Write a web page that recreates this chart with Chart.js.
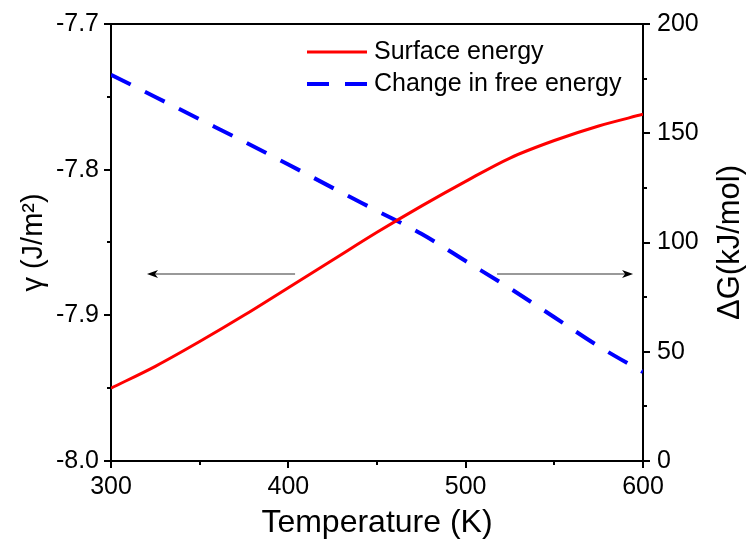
<!DOCTYPE html>
<html>
<head>
<meta charset="utf-8">
<script src="https://cdn.jsdelivr.net/npm/chart.js@4"></script>
<style>
  html, body { margin: 0; padding: 0; background: #fff; }
  #wrap { width: 748px; height: 544px; }
</style>
</head>
<body>
<div id="wrap"><canvas id="chart" width="748" height="544"></canvas></div>
<script>
// temperature (K)
const temps = [300, 325, 350, 375, 400, 425, 450, 475, 500, 525, 550, 575, 600];
// surface energy gamma (J/m^2), left axis
const surfaceEnergy = [-7.950, -7.935, -7.918, -7.900, -7.881, -7.862, -7.843, -7.825, -7.808, -7.792, -7.780, -7.770, -7.762];
// change in free energy dG (kJ/mol), right axis
const freeEnergy = [176.8, 166.6, 156.4, 146.2, 135.7, 125.0, 114.5, 104.0, 91.5, 79.0, 65.8, 52.5, 40.7];

const xTitle = 'Temperature (K)';
const yTitle = 'γ (J/m²)';
const y1Title = 'ΔG(kJ/mol)';

// arrows: [fromT, toT] at gamma value on left axis
const arrowY = -7.8716;
const arrows = [[403.8, 320.3], [517.7, 594.4]];

Chart.defaults.font.family = "'Liberation Sans', Arial, sans-serif";
Chart.defaults.color = '#000';

function drawTicks(ctx, scale, side) {
  const t = scale.ticks.map(k => k.value);
  const mids = [];
  for (let i = 0; i < t.length - 1; i++) mids.push((t[i] + t[i + 1]) / 2);
  ctx.save();
  ctx.strokeStyle = '#000';
  ctx.lineWidth = 2;
  const mark = (v, len) => {
    const p = Math.round(scale.getPixelForValue(v));
    ctx.beginPath();
    if (side === 'bottom') { ctx.moveTo(p, scale.top); ctx.lineTo(p, scale.top + len); }
    else if (side === 'left') { ctx.moveTo(scale.right, p); ctx.lineTo(scale.right - len, p); }
    else { ctx.moveTo(scale.left, p); ctx.lineTo(scale.left + len, p); }
    ctx.stroke();
  };
  t.forEach(v => mark(v, 7));
  mids.forEach(v => mark(v, 4));
  ctx.restore();
}

const extras = {
  id: 'extras',
  afterDraw(chart) {
    const ctx = chart.ctx;
    const a = chart.chartArea;
    const sx = chart.scales.x, sy = chart.scales.y;

    // top frame line
    ctx.save();
    ctx.strokeStyle = '#000';
    ctx.lineWidth = 2;
    ctx.beginPath();
    ctx.moveTo(a.left - 1, a.top);
    ctx.lineTo(a.right + 1, a.top);
    ctx.stroke();
    ctx.restore();

    drawTicks(ctx, sx, 'bottom');
    drawTicks(ctx, sy, 'left');
    drawTicks(ctx, chart.scales.y1, 'right');

    // arrows
    const py = sy.getPixelForValue(arrowY);
    arrows.forEach(([from, to]) => {
      const x0 = sx.getPixelForValue(from);
      const x1 = sx.getPixelForValue(to);
      const dir = Math.sign(x1 - x0);
      ctx.save();
      ctx.strokeStyle = '#999';
      ctx.lineWidth = 2;
      ctx.beginPath();
      ctx.moveTo(x0, py);
      ctx.lineTo(x1 - dir * 8, py);
      ctx.stroke();
      ctx.fillStyle = '#000';
      ctx.beginPath();
      ctx.moveTo(x1, py);
      ctx.lineTo(x1 - dir * 11, py - 4);
      ctx.lineTo(x1 - dir * 8, py);
      ctx.lineTo(x1 - dir * 11, py + 4);
      ctx.closePath();
      ctx.fill();
      ctx.restore();
    });

    // legend
    ctx.save();
    ctx.font = "25px 'Liberation Sans', Arial, sans-serif";
    ctx.textBaseline = 'middle';
    ctx.fillStyle = '#000';
    chart.data.datasets.forEach((ds, i) => {
      const ly = 52 + i * 32;
      ctx.strokeStyle = ds.borderColor;
      ctx.lineWidth = ds.borderWidth;
      ctx.setLineDash(ds.borderDash || []);
      ctx.beginPath();
      ctx.moveTo(307, ly);
      ctx.lineTo(367, ly);
      ctx.stroke();
      ctx.setLineDash([]);
      ctx.fillText(ds.label, 374, ly);
    });
    ctx.restore();

    // right axis title, reading bottom to top
    ctx.save();
    ctx.font = "31px 'Liberation Sans', Arial, sans-serif";
    ctx.textAlign = 'center';
    ctx.textBaseline = 'middle';
    ctx.fillStyle = '#000';
    ctx.translate(730, (a.top + a.bottom) / 2);
    ctx.rotate(-Math.PI / 2);
    ctx.fillText(y1Title, 0, 0);
    ctx.restore();
  }
};

const axisBorder = { display: true, color: '#000', width: 2 };
const noGrid = { display: true, drawOnChartArea: false, drawTicks: false };
const noEdgePad = s => { s.paddingTop = 0; s.paddingBottom = 0; s.paddingLeft = 0; s.paddingRight = 0; };

new Chart(document.getElementById('chart'), {
  type: 'line',
  data: {
    datasets: [
      {
        label: 'Surface energy',
        data: temps.map((t, i) => ({ x: t, y: surfaceEnergy[i] })),
        yAxisID: 'y',
        borderColor: '#ff0000',
        backgroundColor: '#ff0000',
        borderWidth: 3,
        pointRadius: 0,
        cubicInterpolationMode: 'monotone'
      },
      {
        label: 'Change in free energy',
        data: temps.map((t, i) => ({ x: t, y: freeEnergy[i] })),
        yAxisID: 'y1',
        borderColor: '#0000ff',
        backgroundColor: '#0000ff',
        borderWidth: 4,
        borderDash: [22, 16],
        pointRadius: 0,
        cubicInterpolationMode: 'monotone'
      }
    ]
  },
  options: {
    responsive: false,
    animation: false,
    layout: { padding: { top: 24, left: 0, right: 0, bottom: 0 } },
    plugins: { legend: { display: false }, tooltip: { enabled: false } },
    scales: {
      x: {
        type: 'linear',
        min: 300, max: 600,
        grid: noGrid,
        border: axisBorder,
        ticks: { stepSize: 100, padding: 11, font: { size: 25 } },
        title: { display: true, text: xTitle, font: { size: 32, lineHeight: 1.2 }, padding: { top: 0, bottom: 2 } },
        afterFit(s) { s.height = 83; noEdgePad(s); }
      },
      y: {
        position: 'left',
        min: -8.0, max: -7.7,
        grid: noGrid,
        border: axisBorder,
        ticks: { stepSize: 0.1, padding: 12, font: { size: 25 }, callback: v => v.toFixed(1) },
        title: { display: true, text: yTitle, font: { size: 29, lineHeight: 1.2 }, padding: { top: 17, bottom: 0 } },
        afterFit(s) { s.width = 111; noEdgePad(s); }
      },
      y1: {
        position: 'right',
        min: 0, max: 200,
        grid: noGrid,
        border: axisBorder,
        ticks: { stepSize: 50, padding: 14, font: { size: 25 } },
        afterFit(s) { s.width = 105; noEdgePad(s); }
      }
    }
  },
  plugins: [extras]
});
</script>
</body>
</html>
